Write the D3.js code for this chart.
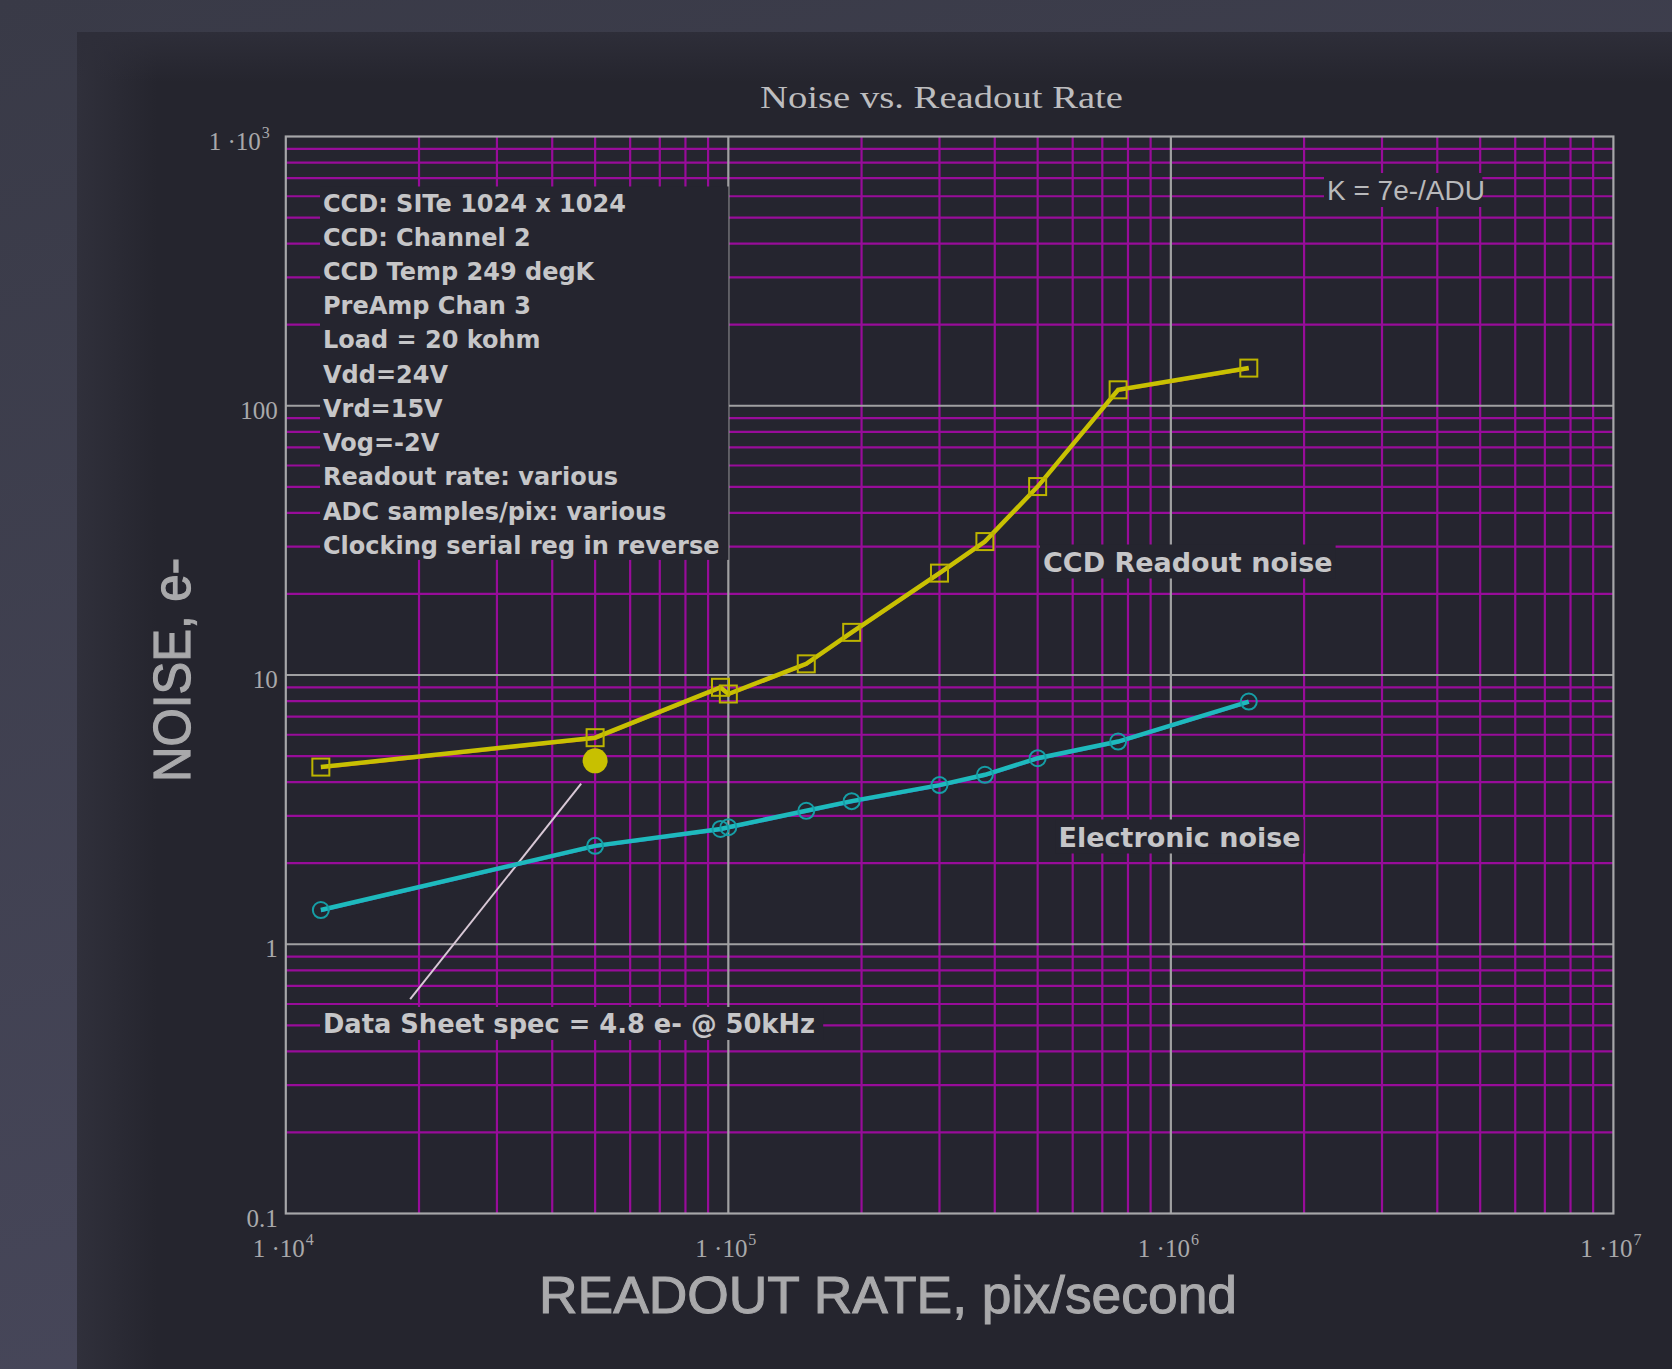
<!DOCTYPE html>
<html>
<head>
<meta charset="utf-8">
<script src="https://d3js.org/d3.v7.min.js"></script>
<style>
body{margin:0;background:#3b3c49;}
svg{display:block;}
</style>
</head>
<body>
<svg id="svg_canvas" width="1672" height="1369"></svg>
<script>

// readout rates, pix/second (shared by both traces)
var rates=[1.2e4, 5e4, 9.6e4, 1e5, 1.5e5, 1.9e5, 3e5, 3.8e5, 5e5, 7.6e5, 1.5e6];
var ccd_noise=[4.55, 5.85, 9.0, 8.5, 11.0, 14.4, 23.9, 31.3, 50.1, 114.6, 138];
var electronic_noise=[1.34, 2.32, 2.68, 2.72, 3.13, 3.4, 3.9, 4.26, 4.91, 5.66, 7.97];

var spec_point=[5e4, 4.8];
var spec_leader=[[4.65e4, 3.95],[1.91e4, 0.626]];

var x_ticks=[1e4, 1e5, 1e6, 1e7];
var x_tick_labels=[["1 \u00b710","4"],["1 \u00b710","5"],["1 \u00b710","6"],["1 \u00b710","7"]];
var y_ticks=[0.1, 1, 10, 100, 1000];
var y_tick_labels=[["0.1",""],["1",""],["10",""],["100",""],["1 \u00b710","3"]];

var info_lines=["CCD: SITe 1024 x 1024","CCD: Channel 2","CCD Temp 249 degK","PreAmp Chan 3",
	"Load = 20 kohm","Vdd=24V","Vrd=15V","Vog=-2V","Readout rate: various",
	"ADC samples/pix: various","Clocking serial reg in reverse"];

var chart_title="Noise vs. Readout Rate";
var x_title="READOUT RATE, pix/second";
var y_title="NOISE, e-";
var gain_label="K = 7e-/ADU";
var ccd_label="CCD Readout noise";
var elec_label="Electronic noise";
var spec_label="Data Sheet spec = 4.8 e- @ 50kHz";


function draw(){

	var svg=d3.select("#svg_canvas");
	var plot_bg="#25252f";
	var left_x=285.8, right_x=1613.4, top_y=136.5, bottom_y=1213.5;

	var x=d3.scaleLog().domain([1e4,1e7]).range([left_x,right_x]);
	var y=d3.scaleLog().domain([0.1,1000]).range([bottom_y,top_y]);

	// page background + panel, soft lighter rim on the panel's left and top
	var defs=svg.append("defs");
	var bg=defs.append("linearGradient").attr("id","bg_grad").attr("x1",0).attr("y1",0).attr("x2",0.3).attr("y2",1);
	bg.append("stop").attr("offset","0%").attr("stop-color","#393a47");
	bg.append("stop").attr("offset","100%").attr("stop-color","#47475a");
	var rim_l=defs.append("linearGradient").attr("id","rim_l").attr("x1",0).attr("y1",0).attr("x2",1).attr("y2",0);
	rim_l.append("stop").attr("offset","0%").attr("stop-color","#30303b");
	rim_l.append("stop").attr("offset","100%").attr("stop-color","#30303b").attr("stop-opacity",0);
	var rim_t=defs.append("linearGradient").attr("id","rim_t").attr("x1",0).attr("y1",0).attr("x2",0).attr("y2",1);
	rim_t.append("stop").attr("offset","0%").attr("stop-color","#2e2e39");
	rim_t.append("stop").attr("offset","100%").attr("stop-color","#2e2e39").attr("stop-opacity",0);

	svg.append("rect").attr("width",1672).attr("height",1369).attr("fill","url(#bg_grad)");
	svg.append("rect").attr("x",77).attr("y",32).attr("width",1595).attr("height",1337).attr("fill","#25252e");
	svg.append("rect").attr("x",77).attr("y",32).attr("width",80).attr("height",1337).attr("fill","url(#rim_l)");
	svg.append("rect").attr("x",77).attr("y",32).attr("width",1595).attr("height",50).attr("fill","url(#rim_t)");

	svg.append("rect").attr("x",left_x).attr("y",top_y).attr("width",right_x-left_x).attr("height",bottom_y-top_y).attr("fill",plot_bg);

	// minor grid (2..9 in each decade)
	var minor_x=[], minor_y=[];
	[1e4,1e5,1e6].forEach(function(d){ for(var k=2;k<10;k++){ minor_x.push(d*k); } });
	[0.1,1,10,100].forEach(function(d){ for(var k=2;k<10;k++){ minor_y.push(d*k); } });

	var grid=svg.append("g");
	grid.selectAll(".minor_x").data(minor_x).enter().append("line")
		.attr("x1",function(d){return x(d);}).attr("x2",function(d){return x(d);})
		.attr("y1",top_y).attr("y2",bottom_y)
		.attr("stroke","#980c9a").attr("stroke-width",2.2);
	grid.selectAll(".minor_y").data(minor_y).enter().append("line")
		.attr("y1",function(d){return y(d);}).attr("y2",function(d){return y(d);})
		.attr("x1",left_x).attr("x2",right_x)
		.attr("stroke","#980c9a").attr("stroke-width",2.2);

	grid.selectAll(".major_x").data(x_ticks.slice(1,-1)).enter().append("line")
		.attr("x1",function(d){return x(d);}).attr("x2",function(d){return x(d);})
		.attr("y1",top_y).attr("y2",bottom_y)
		.attr("stroke","#a0a0a2").attr("stroke-width",2.2);
	grid.selectAll(".major_y").data(y_ticks.slice(1,-1)).enter().append("line")
		.attr("y1",function(d){return y(d);}).attr("y2",function(d){return y(d);})
		.attr("x1",left_x).attr("x2",right_x)
		.attr("stroke","#a0a0a2").attr("stroke-width",2.2);

	svg.append("rect").attr("x",left_x).attr("y",top_y).attr("width",right_x-left_x).attr("height",bottom_y-top_y)
		.attr("fill","none").attr("stroke","#a6a6a8").attr("stroke-width",2.2);

	// leader line to the spec point
	svg.append("line")
		.attr("x1",x(spec_leader[0][0])).attr("y1",y(spec_leader[0][1]))
		.attr("x2",x(spec_leader[1][0])).attr("y2",y(spec_leader[1][1]))
		.attr("stroke","#d8c8d6").attr("stroke-width",2);

	// labels sit on boxes of plot colour that hide the grid
	function boxed_text(g, str, tx, ty, size, family, weight, fill, pad){
		var box=g.append("rect").attr("fill",plot_bg);
		var t=g.append("text").attr("x",tx).attr("y",ty)
			.attr("font-family",family).attr("font-size",size).attr("font-weight",weight)
			.attr("fill",fill).text(str);
		var b=t.node().getBBox();
		box.attr("x",b.x-pad[0]).attr("y",b.y-pad[1]).attr("width",b.width+pad[0]+pad[2]).attr("height",b.height+pad[1]+pad[3]);
		return t;
	}

	var info=svg.append("g");
	var info_box=info.append("rect").attr("fill",plot_bg);
	info.selectAll("text").data(info_lines).enter().append("text")
		.attr("x",323)
		.attr("y",function(d,i){ return 211.5+i*34.24; })
		.attr("font-family","DejaVu Sans").attr("font-weight","bold").attr("font-size",24)
		.attr("fill","#c6c6c8")
		.text(function(d){return d;});
	var ib=info.node().getBBox();
	info_box.attr("x",ib.x-3).attr("y",ib.y-3).attr("width",ib.width+12).attr("height",ib.height+3);

	var lab=svg.append("g");
	boxed_text(lab.append("g"), gain_label, 1327, 200, 27, "Liberation Sans", "normal", "#b9b9bb", [3,3,3,1])
		.attr("textLength",158).attr("lengthAdjust","spacingAndGlyphs");
	boxed_text(lab.append("g"), ccd_label, 1043, 571.5, 27, "DejaVu Sans", "bold", "#c6c6c8", [3,2,3,1]);
	boxed_text(lab.append("g"), elec_label, 1058.5, 846.5, 27, "DejaVu Sans", "bold", "#c6c6c8", [3,2,3,1]);
	boxed_text(lab.append("g"), spec_label, 323, 1033, 26, "DejaVu Sans", "bold", "#c6c6c8", [3,2,3,1])
		.attr("textLength",492).attr("lengthAdjust","spacingAndGlyphs");

	// traces
	var line=d3.line().x(function(d){return x(d[0]);}).y(function(d){return y(d[1]);});
	var ccd_pts=rates.map(function(r,i){return [r, ccd_noise[i]];});
	var elec_pts=rates.map(function(r,i){return [r, electronic_noise[i]];});

	svg.append("path").datum(ccd_pts).attr("d",line).attr("transform","translate(0,1.5)")
		.attr("fill","none").attr("stroke","#c23a2c").attr("stroke-width",1.5);
	svg.append("path").datum(ccd_pts).attr("d",line)
		.attr("fill","none").attr("stroke","#c8c102").attr("stroke-width",4.5);
	svg.append("path").datum(elec_pts).attr("d",line).attr("transform","translate(0,1.5)")
		.attr("fill","none").attr("stroke","#3a4ec0").attr("stroke-width",1.5);
	svg.append("path").datum(elec_pts).attr("d",line)
		.attr("fill","none").attr("stroke","#1ebabd").attr("stroke-width",4.5);

	svg.selectAll(".sq").data(ccd_pts).enter().append("rect")
		.attr("x",function(d){return x(d[0])-8.5;}).attr("y",function(d){return y(d[1])-8.5;})
		.attr("width",17).attr("height",17)
		.attr("fill","none").attr("stroke","#bdb400").attr("stroke-width",2);
	svg.selectAll(".ci").data(elec_pts).enter().append("circle")
		.attr("cx",function(d){return x(d[0]);}).attr("cy",function(d){return y(d[1]);})
		.attr("r",8)
		.attr("fill","none").attr("stroke","#169ea6").attr("stroke-width",2);

	svg.append("circle").attr("cx",x(spec_point[0])).attr("cy",y(spec_point[1])).attr("r",12.5).attr("fill","#c8c000");

	// axes
	var x_axis=svg.append("g").attr("transform","translate(0,"+bottom_y+")")
		.call(d3.axisBottom(x).tickValues(x_ticks).tickSize(0).tickFormat(""));
	x_axis.select(".domain").remove();
	x_axis.selectAll(".tick text").each(function(d,i){
		var t=d3.select(this).attr("y",43.5).attr("dy",0).attr("x",-3)
			.attr("font-family","Liberation Serif").attr("font-size",25).attr("fill","#a9a9ab");
		t.append("tspan").text(x_tick_labels[i][0]);
		t.append("tspan").attr("font-size",16).attr("dy",-12).attr("dx",1).text(x_tick_labels[i][1]);
	});

	var y_axis=svg.append("g").attr("transform","translate("+left_x+",0)")
		.call(d3.axisLeft(y).tickValues(y_ticks).tickSize(0).tickPadding(8).tickFormat(""));
	y_axis.select(".domain").remove();
	y_axis.selectAll(".tick text").each(function(d,i){
		var t=d3.select(this).attr("dy","0.5em")
			.attr("font-family","Liberation Serif").attr("font-size",25).attr("fill","#a9a9ab");
		t.append("tspan").text(y_tick_labels[i][0]);
		if(y_tick_labels[i][1]!=""){
			t.attr("x",-16);
			t.append("tspan").attr("font-size",16).attr("dy",-12).attr("dx",1).text(y_tick_labels[i][1]);
		}
	});

	svg.append("text").attr("x",941.5).attr("y",108).attr("text-anchor","middle")
		.attr("font-family","Liberation Serif").attr("font-size",32).attr("fill","#bdbdbf")
		.attr("textLength",363).attr("lengthAdjust","spacingAndGlyphs")
		.text(chart_title);

	svg.append("text").attr("x",888).attr("y",1313).attr("text-anchor","middle")
		.attr("font-family","Liberation Sans").attr("font-size",51).attr("fill","#a9a9ab")
		.attr("stroke","#a9a9ab").attr("stroke-width",1)
		.attr("textLength",698).attr("lengthAdjust","spacingAndGlyphs")
		.text(x_title);

	svg.append("text").attr("transform","translate(190,670) rotate(-90)").attr("text-anchor","middle")
		.attr("font-family","Liberation Sans").attr("font-size",51).attr("fill","#a9a9ab")
		.attr("stroke","#a9a9ab").attr("stroke-width",1.2)
		.attr("textLength",224).attr("lengthAdjust","spacingAndGlyphs")
		.text(y_title);
}

draw();
</script>
</body>
</html>
